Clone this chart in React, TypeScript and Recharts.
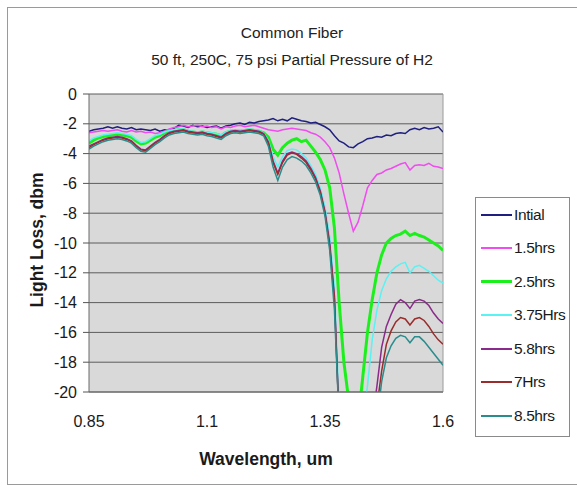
import React from 'react';
import { LineChart, Line, XAxis, YAxis, CartesianGrid, ReferenceLine } from 'recharts';

// wavelength in um
const wavelength = [
  0.85, 0.86, 0.87, 0.88, 0.89, 0.9, 0.91, 0.92, 0.93, 0.94,
  0.95, 0.96, 0.97, 0.98, 0.99, 1, 1.01, 1.02, 1.03, 1.04,
  1.05, 1.06, 1.07, 1.08, 1.09, 1.1, 1.11, 1.12, 1.13, 1.14,
  1.15, 1.16, 1.17, 1.18, 1.19, 1.2, 1.21, 1.22, 1.23, 1.24,
  1.25, 1.26, 1.27, 1.28, 1.29, 1.3, 1.31, 1.32, 1.33, 1.34,
  1.35, 1.36, 1.37, 1.38, 1.39, 1.4, 1.41, 1.42, 1.43, 1.44,
  1.45, 1.46, 1.47, 1.48, 1.49, 1.5, 1.51, 1.52, 1.53, 1.54,
  1.55, 1.56, 1.57, 1.58, 1.59, 1.6,
];

// light loss, dbm (values below -20 run off the bottom of the plot)
const intial = [
  -2.5, -2.4, -2.35, -2.3, -2.2, -2.3, -2.2, -2.3, -2.35, -2.25,
  -2.4, -2.35, -2.4, -2.45, -2.35, -2.5, -2.4, -2.45, -2.3, -2.1,
  -2.15, -2.25, -2.1, -2.2, -2.15, -2.25, -2.2, -2.15, -2.3, -2.15,
  -2.1, -2.0, -1.95, -2.05, -1.9, -1.95, -1.85, -1.8, -1.75, -1.65,
  -1.8, -1.7, -1.8, -1.6, -1.7, -1.8, -1.85, -1.95, -1.9, -2.05,
  -2.2, -2.4, -2.8, -3.15, -3.3, -3.55, -3.6, -3.35, -3.2, -3.0,
  -2.95, -2.85, -2.9, -2.75, -2.8, -2.65, -2.6, -2.65, -2.4, -2.3,
  -2.4, -2.25, -2.35, -2.3, -2.2, -2.55,
];
const hrs1_5 = [
  -2.6, -2.55, -2.5, -2.45, -2.5, -2.45, -2.4, -2.5, -2.55, -2.45,
  -2.55, -2.5, -2.6, -2.55, -2.65, -2.6, -2.5, -2.35, -2.25, -2.2,
  -2.1, -2.2, -2.15, -2.1, -2.2, -2.15, -2.25, -2.2, -2.35, -2.2,
  -2.25, -2.15, -2.1, -2.2, -2.15, -2.1, -2.2, -2.3, -2.4, -2.45,
  -2.5, -2.4, -2.35, -2.3, -2.35, -2.4, -2.45, -2.6, -2.7, -2.9,
  -3.2, -3.6, -4.3, -5.3, -6.7, -8.0, -9.2, -8.6, -7.5, -6.3,
  -5.8, -5.4, -5.3, -5.1, -5.0, -4.85, -4.7, -4.6, -5.1, -4.8,
  -4.75, -4.8, -4.65, -4.85, -4.9, -5.0,
];
const hrs2_5 = [
  -3.3, -3.1, -2.95, -2.85, -2.8, -2.75, -2.7, -2.75, -2.8, -2.9,
  -3.15, -3.35, -3.3, -3.1, -2.9, -2.8, -2.6, -2.5, -2.45, -2.4,
  -2.4, -2.5, -2.55, -2.6, -2.55, -2.6, -2.65, -2.7, -2.8, -2.6,
  -2.5, -2.45, -2.5, -2.45, -2.4, -2.45, -2.5, -2.6, -2.9, -3.7,
  -4.1, -3.6, -3.3, -3.1, -3.0, -3.2, -3.1, -3.5, -3.9, -4.4,
  -5.1, -6.3, -9.0, -14.0, -18.0, -20.5, -22, -22, -19.0, -16.0,
  -13.8, -12.0, -10.8, -10.0, -9.7, -9.5, -9.4, -9.2, -9.5, -9.35,
  -9.5, -9.6, -9.8, -10.0, -10.2, -10.5,
];
const hrs3_75 = [
  -3.15, -2.95, -2.85, -2.75, -2.7, -2.65, -2.6, -2.65, -2.7, -2.8,
  -3.05, -3.25, -3.2, -3.0, -2.8, -2.7, -2.55, -2.45, -2.4, -2.35,
  -2.35, -2.45, -2.5, -2.55, -2.5, -2.55, -2.6, -2.65, -2.75, -2.55,
  -2.45, -2.4, -2.45, -2.4, -2.35, -2.4, -2.45, -2.6, -3.1, -4.2,
  -4.9, -4.2, -3.8, -3.7, -3.75, -4.0, -4.3, -4.8, -5.4, -6.3,
  -7.6, -9.6, -13.0, -21, -22, -22, -22, -22, -22, -19.6,
  -16.5, -14.5, -13.2, -12.4, -11.9, -11.6, -11.4, -11.3, -12.0, -11.6,
  -11.5, -11.7, -11.9, -12.2, -12.5, -12.7,
];
const hrs5_8 = [
  -3.5, -3.35, -3.2, -3.05, -2.95, -2.9, -2.85, -2.9, -3.0, -3.15,
  -3.45, -3.7, -3.75, -3.5, -3.25, -3.05, -2.8, -2.6, -2.5, -2.45,
  -2.4, -2.5, -2.55, -2.6, -2.55, -2.65, -2.7, -2.8, -2.9, -2.65,
  -2.5, -2.45, -2.5, -2.45, -2.4, -2.45, -2.5, -2.65, -3.2, -4.5,
  -5.3, -4.5, -4.0, -3.9, -4.0, -4.2, -4.5, -5.0, -5.6, -6.5,
  -7.9, -10.0, -13.6, -22, -22, -22, -22, -22, -22, -22,
  -22, -19.6, -17.0, -15.6, -14.8, -14.1, -13.8, -14.0, -14.4, -13.9,
  -13.8, -13.9, -14.2, -14.7, -15.1, -15.4,
];
const hrs7 = [
  -3.6, -3.4, -3.25, -3.1, -3.0, -2.95, -2.9, -2.95, -3.05, -3.2,
  -3.5, -3.75, -3.8, -3.55, -3.3, -3.1, -2.85, -2.65, -2.55, -2.5,
  -2.45, -2.55, -2.6, -2.65, -2.6, -2.7, -2.75, -2.85, -2.95, -2.7,
  -2.55, -2.5, -2.55, -2.5, -2.45, -2.5, -2.55, -2.7, -3.3, -4.6,
  -5.4, -4.6, -4.1, -3.95, -4.05, -4.3, -4.6, -5.1, -5.7, -6.6,
  -8.0, -10.2, -13.8, -22, -22, -22, -22, -22, -22, -22,
  -22, -21.0, -18.6, -16.8, -15.9, -15.3, -15.0, -15.1, -15.5, -15.1,
  -15.0, -15.2, -15.6, -16.1, -16.5, -16.8,
];
const hrs8_5 = [
  -3.7, -3.5, -3.35, -3.2, -3.1, -3.05, -3.0, -3.05, -3.15, -3.3,
  -3.6, -3.85, -3.9, -3.65, -3.4, -3.2, -2.95, -2.75, -2.65, -2.6,
  -2.55, -2.65, -2.7, -2.75, -2.7, -2.8, -2.85, -2.95, -3.05, -2.8,
  -2.65, -2.6, -2.65, -2.6, -2.55, -2.6, -2.65, -2.8, -3.5, -4.9,
  -5.8, -4.9, -4.4, -4.2, -4.3, -4.5, -4.8, -5.3, -5.9, -6.8,
  -8.2, -10.5, -14.5, -22, -22, -22, -22, -22, -22, -22,
  -22, -22, -19.3, -17.7, -16.9, -16.4, -16.2, -16.3, -16.7, -16.3,
  -16.3, -16.6, -17.0, -17.4, -17.8, -18.2,
];

const xTicks = [0.85, 1.1, 1.35, 1.6];
const yTicks = [0, -2, -4, -6, -8, -10, -12, -14, -16, -18, -20];

const series = [
  { key: 'intial', name: 'Intial', values: intial, color: '#1f1f80', width: 1.5 },
  { key: 'h15', name: '1.5hrs', values: hrs1_5, color: '#f04cf0', width: 1.5 },
  { key: 'h25', name: '2.5hrs', values: hrs2_5, color: '#1cf01c', width: 3 },
  { key: 'h375', name: '3.75Hrs', values: hrs3_75, color: '#5af2f2', width: 1.5 },
  { key: 'h58', name: '5.8hrs', values: hrs5_8, color: '#8a2a8a', width: 1.5 },
  { key: 'h7', name: '7Hrs', values: hrs7, color: '#9a2c2c', width: 1.5 },
  { key: 'h85', name: '8.5hrs', values: hrs8_5, color: '#2a8c8c', width: 1.5 },
];

const data = wavelength.map((w, i) => {
  const row: any = { w };
  series.forEach(s => { row[s.key] = s.values[i]; });
  return row;
});

const FONT = '"Liberation Sans", Arial, sans-serif';
const tickStyle = { fill: '#1a1a1a', fontSize: 16, fontFamily: FONT };

export default function App() {
  return (
    <div style={{ position: 'absolute', left: 0, top: 0, width: 577, height: 489, overflow: 'hidden', background: '#fff', fontFamily: FONT }}>
      <div style={{ position: 'absolute', left: 7, top: 7, width: 620, height: 476, border: '1px solid #9a9a9a' }} />

      <div style={{ position: 'absolute', left: 0, width: 584, top: 23, textAlign: 'center', fontSize: 15.5, color: '#222', lineHeight: '20px' }}>
        Common Fiber
      </div>
      <div style={{ position: 'absolute', left: 0, width: 584, top: 50, textAlign: 'center', fontSize: 15.5, color: '#222', lineHeight: '20px' }}>
        50 ft, 250C, 75 psi Partial Pressure of H2
      </div>

      <div style={{ position: 'absolute', left: 37, top: 240, transform: 'translate(-50%, -50%) rotate(-90deg)', whiteSpace: 'nowrap', fontSize: 17.5, fontWeight: 'bold', color: '#1a1a1a' }}>
        Light Loss, dbm
      </div>
      <div style={{ position: 'absolute', left: 266, top: 459, transform: 'translate(-50%, -50%)', whiteSpace: 'nowrap', fontSize: 17.5, fontWeight: 'bold', color: '#1a1a1a' }}>
        Wavelength, um
      </div>

      <div style={{ position: 'absolute', left: 0, top: 0 }}>
        <LineChart width={577} height={489} data={data} margin={{ top: 94, right: 134, left: 29, bottom: 37 }}>
          <CartesianGrid horizontal vertical={false} fill="#d9d9d9" stroke="#5c5c5c" strokeWidth={1} />
          <XAxis
            dataKey="w"
            type="number"
            domain={[0.85, 1.6]}
            ticks={xTicks}
            allowDataOverflow
            height={60}
            axisLine={{ stroke: '#6a6a6a' }}
            tickLine={false}
            tickSize={6}
            tickMargin={18}
            tick={tickStyle}
          />
          <XAxis
            xAxisId="top"
            dataKey="w"
            type="number"
            orientation="top"
            domain={[0.85, 1.6]}
            ticks={xTicks}
            mirror
            height={0}
            axisLine={{ stroke: '#6a6a6a' }}
            tickLine={{ stroke: '#555' }}
            tickSize={4}
            tickFormatter={() => ''}
          />
          <YAxis
            type="number"
            domain={[-20, 0]}
            ticks={yTicks}
            allowDataOverflow
            width={60}
            axisLine={{ stroke: '#6a6a6a' }}
            tickLine={{ stroke: '#555' }}
            tickSize={6}
            tickMargin={6}
            tick={tickStyle}
          />
          <ReferenceLine x={1.6} stroke="#9a9a9a" />
          {series.map(s => (
            <Line
              key={s.key}
              type="linear"
              dataKey={s.key}
              name={s.name}
              stroke={s.color}
              strokeWidth={s.width}
              dot={false}
              activeDot={false}
              isAnimationActive={false}
            />
          ))}
        </LineChart>
      </div>

      <div style={{ position: 'absolute', left: 475, top: 197, width: 95, height: 240, border: '1px solid #8a8a8a', background: '#fff', boxSizing: 'border-box' }}>
        {series.map(s => (
          <div key={s.key} style={{ height: 33.5, display: 'flex', alignItems: 'center' }}>
            <div style={{ marginLeft: 5, width: 31, height: 0, borderTop: `${s.width === 3 ? 3 : 2}px solid ${s.color}` }} />
            <span style={{ marginLeft: 2, fontSize: 15.5, color: '#1a1a1a', whiteSpace: 'nowrap', letterSpacing: -0.4 }}>{s.name}</span>
          </div>
        ))}
      </div>
    </div>
  );
}
